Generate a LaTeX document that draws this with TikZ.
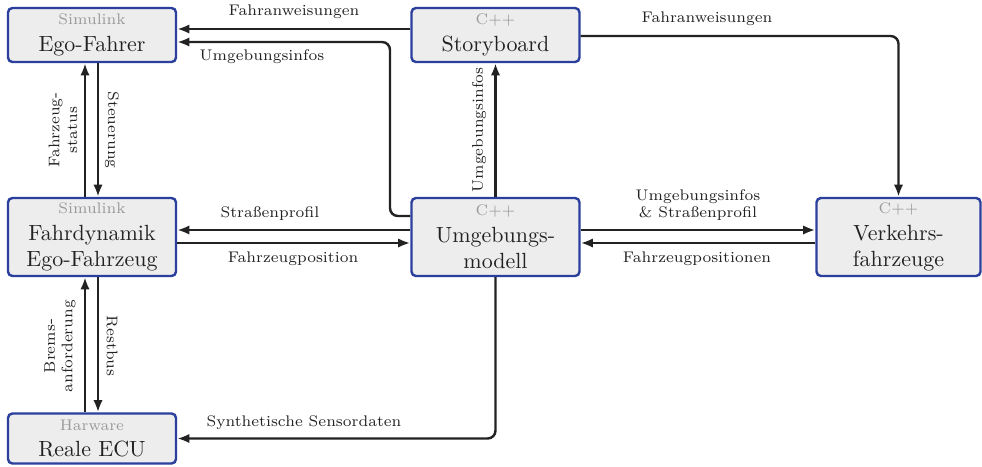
\documentclass[tikz,border=0pt]{standalone}
\usetikzlibrary{arrows.meta}
\definecolor{boxblue}{HTML}{2B3F9C}
\definecolor{boxfill}{HTML}{EDEDED}
\definecolor{ink}{HTML}{222222}
\definecolor{tagcol}{HTML}{9A9A9A}
\newcommand\tagline[1]{{\scriptsize\color{tagcol}#1}}
\begin{document}
\begin{tikzpicture}[x=0.455pt,y=-0.455pt,
  block/.style={draw=boxblue, fill=boxfill, line width=1.1pt, rounded corners=2pt,
    minimum width=168*0.455pt, align=center, inner sep=0pt, text=ink, font=\normalsize},
  arr/.style={draw=ink, line width=1.1pt, -{Latex[length=5.5pt,width=4.2pt]}},
  roundbend/.style={rounded corners=3.6pt},
  lbl/.style={font=\scriptsize, text=ink, inner sep=0pt, align=center},
]
\useasboundingbox (0,0) rectangle (982,466);

% components
\node[block, minimum height=54*0.455pt] (ego) at (92,35) {\tagline{Simulink}\\Ego-Fahrer};
\node[block, minimum height=54*0.455pt] (sb)  at (495.5,35) {\tagline{C++}\\Storyboard};
\node[block, minimum height=78*0.455pt] (fd)  at (92,237) {\tagline{Simulink}\\Fahrdynamik\\Ego-Fahrzeug};
\node[block, minimum height=78*0.455pt] (um)  at (495.5,237) {\tagline{C++}\\Umgebungs-\\modell};
\node[block, minimum height=78*0.455pt, minimum width=164*0.455pt] (vf) at (898.5,237) {\tagline{C++}\\Verkehrs-\\fahrzeuge};
\node[block, minimum height=50*0.455pt] (ecu) at (92,438.5) {\tagline{Harware}\\Reale ECU};

% connections
\draw[arr] (sb.west |- 0,29) -- (ego.east |- 0,29);
\draw[arr, roundbend] (um.west |- 0,216) -- (390,216) -- (390,42) -- (ego.east |- 0,42);
\draw[arr, roundbend] (sb.east |- 0,36) -| (vf.north);
\draw[arr] (um.north) -- (sb.south);

\draw[arr] (fd.north -| 85,0) -- (ego.south -| 85,0);
\draw[arr] (ego.south -| 98,0) -- (fd.north -| 98,0);

\draw[arr] (um.west |- 0,230) -- (fd.east |- 0,230);
\draw[arr] (fd.east |- 0,243) -- (um.west |- 0,243);

\draw[arr] (um.east |- 0,230) -- (vf.west |- 0,230);
\draw[arr] (vf.west |- 0,243) -- (um.east |- 0,243);

\draw[arr] (ecu.north -| 85,0) -- (fd.south -| 85,0);
\draw[arr] (fd.south -| 98,0) -- (ecu.north -| 98,0);

\draw[arr, roundbend] (um.south) |- (ecu.east);

% connector labels
\node[lbl] (l1) at (294,12) {Fahranweisungen};
\node[lbl] (l2) at (262,57) {Umgebungsinfos};
\node[lbl] (l3) at (707,19) {Fahranweisungen};
\node[lbl, rotate=90] (l4) at (479,130) {Umgebungsinfos};
\node[lbl, rotate=90] (l5) at (63,130) {Fahrzeug-\\status};
\node[lbl, rotate=-90] (l6) at (112,130) {Steuerung};
\node[lbl] (l7) at (270,214) {Straßenprofil};
\node[lbl] (l8) at (293,259) {Fahrzeugposition};
\node[lbl] (l9) at (698,205) {Umgebungsinfos\\\& Straßenprofil};
\node[lbl] (l10) at (697,259) {Fahrzeugpositionen};
\node[lbl, rotate=90] (l11) at (60,346) {Brems-\\anforderung};
\node[lbl, rotate=-90] (l12) at (112,346) {Restbus};
\node[lbl] (l13) at (304,423) {Synthetische Sensordaten};
\end{tikzpicture}
\end{document}
